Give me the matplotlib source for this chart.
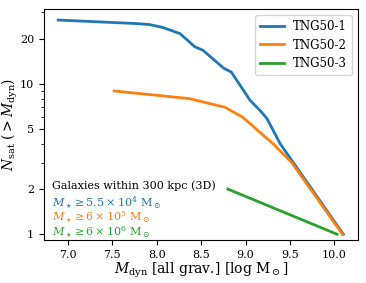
import matplotlib
matplotlib.use("Agg")
import matplotlib.pyplot as plt

plt.rcParams['font.family'] = 'DejaVu Serif'
plt.rcParams['mathtext.fontset'] = 'dejavuserif'

# satellite counts vs dynamical mass
m1 = [6.89, 7.77, 7.92, 8.07, 8.26, 8.43, 8.52, 8.75, 8.84, 9.05, 9.16, 9.24, 9.39, 9.52, 10.10]
n1 = [26.7, 25.3, 24.9, 23.8, 21.7, 17.7, 16.8, 12.8, 12.0, 7.8, 6.7, 5.9, 4.0, 3.1, 1.0]

m2 = [7.52, 8.37, 8.77, 8.97, 9.31, 9.52, 10.09]
n2 = [9.0, 8.0, 7.0, 6.0, 4.0, 3.0, 1.0]

m3 = [8.80, 10.03]
n3 = [2.0, 1.0]

labels = ['TNG50-1', 'TNG50-2', 'TNG50-3']
notes = [r'$M_\star \geq 5.5\times10^4\ \mathrm{M_\odot}$',
         r'$M_\star \geq 6\times10^5\ \mathrm{M_\odot}$',
         r'$M_\star \geq 6\times10^6\ \mathrm{M_\odot}$']
colors = ['#1f77b4', '#ff7f0e', '#2ca02c']

fig = plt.figure(figsize=(3.66, 2.83), dpi=100)
ax = fig.add_axes([0.120, 0.152, 0.857, 0.816])

for m, n, lab, c in zip([m1, m2, m3], [n1, n2, n3], labels, colors):
    ax.plot(m, n, color=c, lw=2, label=lab)

ax.set_yscale('log')
ax.set_ylim(0.916, 31.6)
ax.set_xticks([7.0, 7.5, 8.0, 8.5, 9.0, 9.5, 10.0])
ax.set_yticks([1, 2, 5, 10, 20])
ax.set_yticklabels(['1', '2', '5', '10', '20'])
ax.tick_params(labelsize=8)

ax.set_xlabel(r'$M_{\rm dyn}$ [all grav.] [log M$_\odot$]', fontsize=10, labelpad=1)
ax.set_ylabel(r'$N_{\rm sat}\ (>M_{\rm dyn})$', fontsize=10, labelpad=0)

ax.legend(loc='upper right', fontsize=8.5)

ax.text(0.025, 0.234, 'Galaxies within 300 kpc (3D)', transform=ax.transAxes,
        fontsize=8, va='center')
for y, note, c in zip([0.166, 0.098, 0.032], notes, colors):
    ax.text(0.025, y, note, transform=ax.transAxes, fontsize=8, va='center', color=c)

fig.savefig('out.png', dpi=100)
